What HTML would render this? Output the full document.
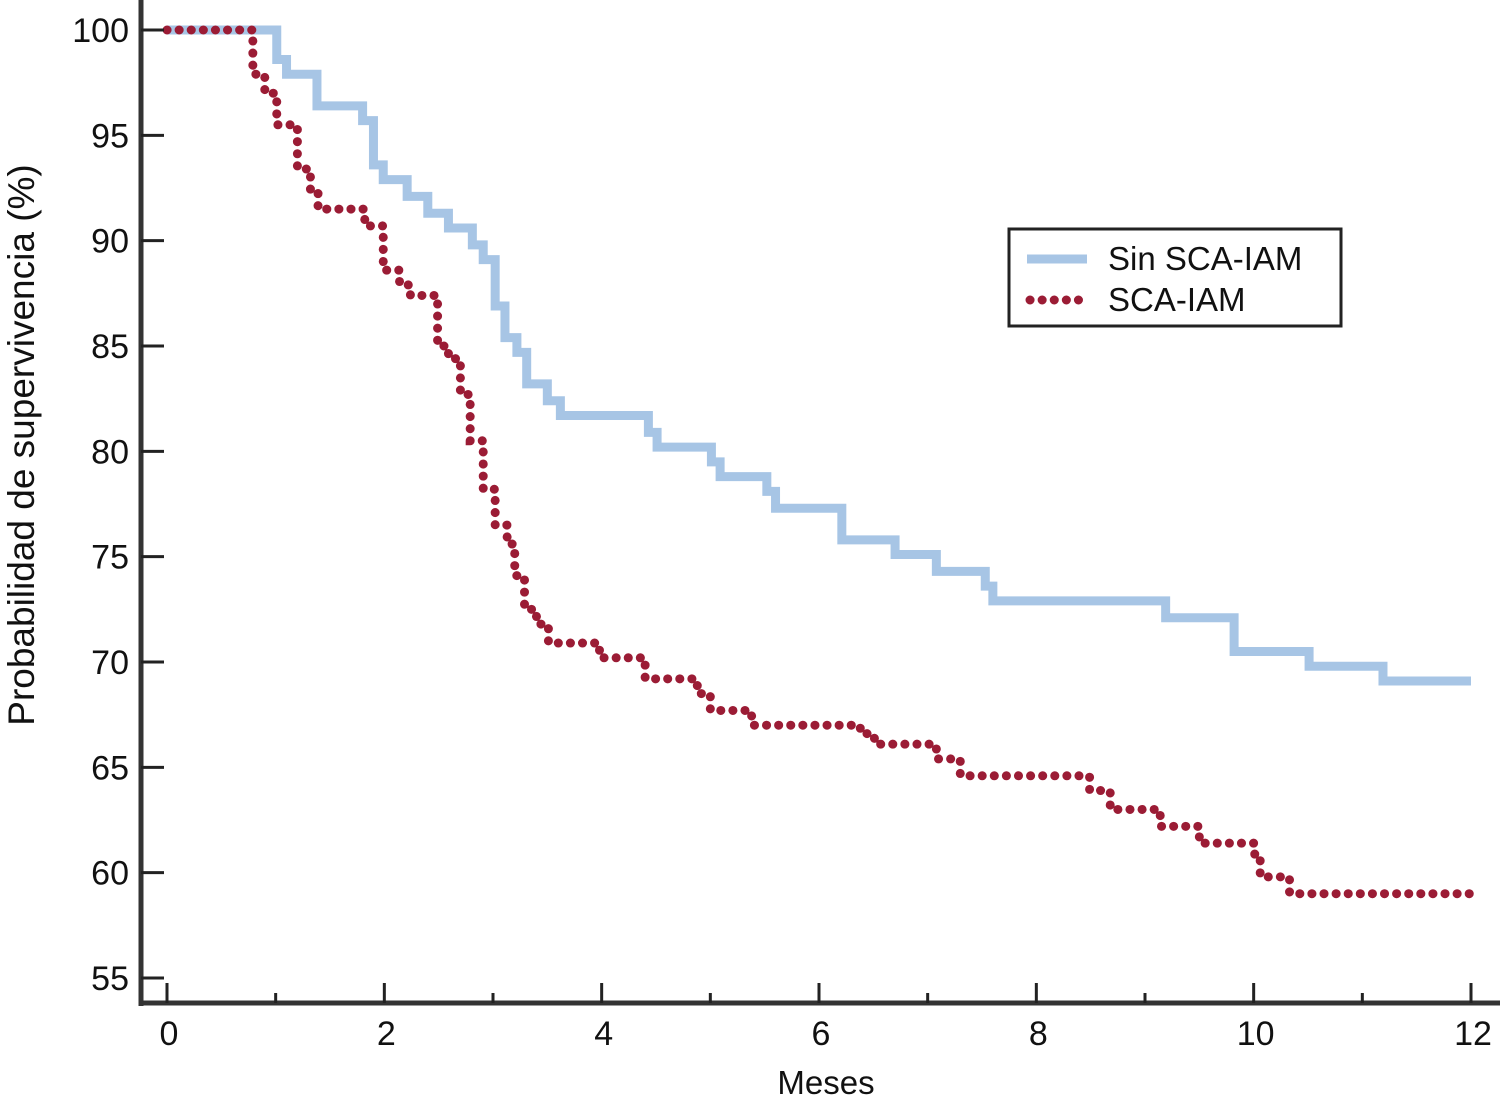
<!DOCTYPE html>
<html><head><meta charset="utf-8"><style>
body{margin:0;background:#fff;}
svg{display:block;font-family:"Liberation Sans",sans-serif;}
</style></head><body>
<svg id="chart" width="1500" height="1102" viewBox="0 0 1500 1102">
<g id="marks"></g>
<g id="axes"></g>
<g>
<rect x="1009" y="229" width="332" height="97" fill="#fff" stroke="#222" stroke-width="3"/>
<line x1="1027" y1="259" x2="1087" y2="259" stroke="#a7c5e5" stroke-width="9"/>
<text x="1108" y="270" font-size="33" fill="#111">Sin SCA-IAM</text>
<line x1="1030" y1="300" x2="1085" y2="300" stroke="#9b1c35" stroke-width="9" stroke-linecap="round" stroke-dasharray="0.1 12"/>
<text x="1108" y="311" font-size="33" fill="#111">SCA-IAM</text>
</g>
<text x="826" y="1094" font-size="33" text-anchor="middle" fill="#111">Meses</text>
<text transform="translate(34,445) rotate(-90)" font-size="37" text-anchor="middle" fill="#111">Probabilidad de supervivencia (%)</text>
</svg>
<script>
const blueTimes=[1.01,1.10,1.38,1.80,1.90,1.99,2.21,2.40,2.59,2.81,2.91,3.02,3.11,3.22,3.31,3.50,3.62,4.43,4.51,5.01,5.09,5.52,5.60,6.21,6.70,7.08,7.53,7.60,9.19,9.82,10.51,11.19];
const blueValues=[98.6,97.9,96.4,95.7,93.6,92.9,92.1,91.3,90.6,89.8,89.1,86.9,85.4,84.7,83.2,82.4,81.7,80.9,80.2,79.5,78.8,78.1,77.3,75.8,75.1,74.3,73.6,72.9,72.1,70.5,69.8,69.1];
const redTimes=[0.79,0.90,1.01,1.20,1.32,1.39,1.82,1.99,2.14,2.24,2.49,2.59,2.70,2.79,2.91,3.02,3.13,3.20,3.29,3.40,3.51,3.98,4.40,4.88,5.00,5.38,6.38,6.51,7.08,7.30,8.49,8.68,9.14,9.50,10.01,10.06,10.33];
const redValues=[97.9,97.0,95.5,93.4,92.4,91.5,90.7,88.6,87.9,87.4,85.0,84.4,82.7,80.5,78.2,76.5,75.6,74.1,72.5,71.8,70.9,70.2,69.2,68.5,67.7,67.0,66.6,66.1,65.4,64.6,63.9,63.0,62.2,61.4,60.7,59.8,59.0];
const yTicks=[55,60,65,70,75,80,85,90,95,100];
const xTicks=[0,1,2,3,4,5,6,7,8,9,10,11,12];
const xLabels=[0,2,4,6,8,10,12];
const endTime=12;

const X=t=>167+t*(1471-167)/12;
const Y=v=>30+(100-v)*(978-30)/45;
const NS="http://www.w3.org/2000/svg";
const marks=document.getElementById('marks'), axes=document.getElementById('axes');
function mk(tag,attrs,parent){const e=document.createElementNS(NS,tag);for(const k in attrs)e.setAttribute(k,attrs[k]);parent.appendChild(e);return e;}
function stepPath(times,vals){let d=`M${X(0)},${Y(100)}`;
 times.forEach((t,i)=>{d+=` H${X(t)} V${Y(vals[i])}`;});
 d+=` H${X(endTime)}`;return d;}
const bp=mk('path',{d:stepPath(blueTimes,blueValues),fill:'none',stroke:'#a7c5e5','stroke-width':9},marks);


const rp=mk('path',{d:stepPath(redTimes,redValues),fill:'none',stroke:'#9b1c35','stroke-width':9,'stroke-linecap':'round','stroke-dasharray':'0.1 12'},marks);



const ya=mk('line',{x1:141,y1:0,x2:141,y2:1006,stroke:'#333','stroke-width':5},axes);


const xa=mk('line',{x1:139,y1:1003,x2:1500,y2:1003,stroke:'#333','stroke-width':5},axes);


yTicks.forEach(v=>{
 const l=mk('line',{x1:141,y1:Y(v),x2:164,y2:Y(v),stroke:'#222','stroke-width':3},axes);
 
 
 const t=mk('text',{x:129,y:Y(v)+12,'font-size':34,'text-anchor':'end',fill:'#111'},axes);
 t.textContent=v;
 
 
});
xTicks.forEach(m=>{
 const l=mk('line',{x1:X(m),y1:m%2?993:983,x2:X(m),y2:1003,stroke:'#222','stroke-width':3},axes);
 
 
});
xLabels.forEach(m=>{
 const t=mk('text',{x:X(m)+2,y:1045,'font-size':34,'text-anchor':'middle',fill:'#111'},axes);
 t.textContent=m;
 
 
});
</script>
</body></html>
